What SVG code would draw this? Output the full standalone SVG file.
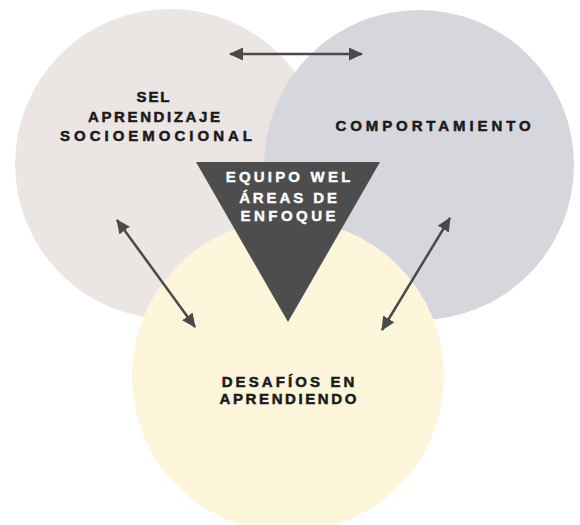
<svg xmlns="http://www.w3.org/2000/svg" width="580" height="525" viewBox="0 0 580 525">
<style>
.lbl{font-family:"Liberation Sans",Arial,sans-serif;font-weight:700;font-size:15px;fill:#1a1a1a;stroke:#1a1a1a;stroke-width:0.5px;text-anchor:middle}
.tri{font-family:"Liberation Sans",Arial,sans-serif;font-weight:700;font-size:15px;fill:#ffffff;stroke:#ffffff;stroke-width:0.4px;text-anchor:middle}
.arr{stroke:#4a4a4a;stroke-width:2.5;fill:none;marker-start:url(#ah);marker-end:url(#ah)}
</style>
<defs>
<marker id="ah" markerUnits="userSpaceOnUse" markerWidth="15" markerHeight="14" refX="13" refY="6.5" orient="auto-start-reverse">
<path d="M0,0 L14,6.5 L0,13 z" fill="#4a4a4a"/>
</marker>
</defs>
<rect width="580" height="525" fill="#ffffff"/>
<g id="sel">
<circle cx="170" cy="164" r="155" fill="#ebe6e3"/>
</g>
<g id="comportamiento">
<circle cx="419" cy="165" r="155" fill="#d6d7dd"/>
</g>
<g id="desafios">
<circle cx="288" cy="376" r="156" fill="#fdf6db"/>
</g>
<g id="equipo">
<polygon points="196,162 380,162 288,322" fill="#4d4d4d"/>
</g>
<g id="connectors">
<line class="arr" x1="230" y1="54" x2="362" y2="54"/>
<line class="arr" x1="117" y1="220" x2="195" y2="327"/>
<line class="arr" x1="450" y1="218" x2="382" y2="330"/>
</g>
<g id="labels">
<text class="lbl" x="154" y="102" style="letter-spacing:1.9px">SEL</text>
<text class="lbl" x="155.3" y="122" style="letter-spacing:2.6px">APRENDIZAJE</text>
<text class="lbl" x="158" y="141" style="letter-spacing:4px">SOCIOEMOCIONAL</text>
<text class="lbl" x="435" y="131" style="letter-spacing:3.9px">COMPORTAMIENTO</text>
<text class="tri" x="289.6" y="182" style="letter-spacing:3.2px">EQUIPO WEL</text>
<text class="tri" x="289.5" y="202.5" style="letter-spacing:2.9px">ÁREAS DE</text>
<text class="tri" x="289.8" y="221" style="letter-spacing:3.5px">ENFOQUE</text>
<text class="lbl" x="289.6" y="387" style="letter-spacing:3.1px">DESAFÍOS EN</text>
<text class="lbl" x="289.3" y="404" style="letter-spacing:2.6px">APRENDIENDO</text>
</g>
</svg>
